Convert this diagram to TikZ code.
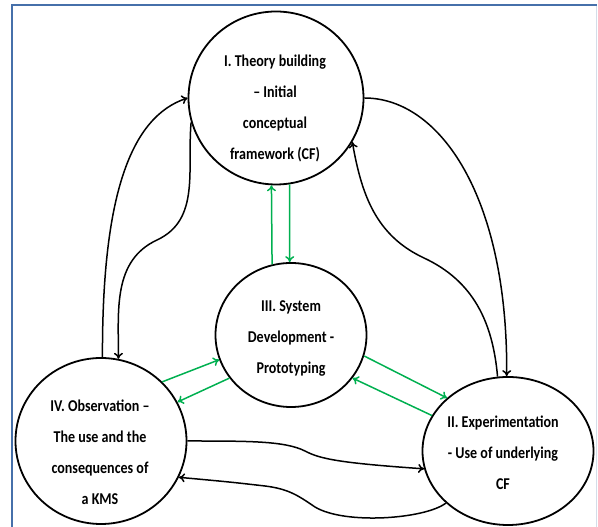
\documentclass[tikz,border=0pt]{standalone}
\usepackage{fontspec}
\setmainfont{Carlito}[Scale=1.18,FakeStretch=0.85]
\usepackage{xcolor}
\usepackage{tikz}
\usetikzlibrary{math,shapes.geometric,arrows.meta}
\definecolor{loopgreen}{RGB}{0,176,80}
\definecolor{frameblue}{RGB}{70,112,170}
\definecolor{framegrey}{RGB}{212,221,233}

\begin{document}
\begin{tikzpicture}[x=1pt,y=1pt,
	stage/.style={ellipse,draw,line width=1.8pt,inner sep=0pt},
	txt/.style={align=center,inner sep=0pt,font=\fontsize{14}{31}\selectfont\bfseries},
	flow/.style={line width=1.5pt,-{To[length=6pt,width=9pt]}},
	back/.style={flow,loopgreen}]
\useasboundingbox (0,0) rectangle (598,527);
\draw[framegrey,line width=1pt] (596.5,0) -- (596.5,521);
\draw[frameblue,line width=2pt] (11.5,0) -- (11.5,522) -- (597,522);
\tikzmath{
	\xth = 276;\yth = 429;
	\xsd = 291;\ysd = 192;
	\xob = 101;\yob = 86;
	\xex = 508;\yex = 76;
	{\node[stage,minimum width=175pt,minimum height=173pt] (th) at (\xth,\yth) {};};
	{\node[stage,minimum width=151pt,minimum height=144pt] (sd) at (\xsd,\ysd) {};};
	{\node[stage,minimum width=171pt,minimum height=166pt] (ob) at (\xob,\yob) {};};
	{\node[stage,minimum width=171pt,minimum height=148pt] (ex) at (\xex,\yex) {};};
	{\node[txt] (tht) at (\xth-1,\yth-10) {I. Theory building\\– Initial\\conceptual\\framework (CF)};};
	{\node[txt] (sdt) at (\xsd,\ysd-3) {III. System\\Development -\\Prototyping};};
	{\node[txt] (obt) at (\xob-1,\yob-11) {IV. Observation –\\The use and the\\consequences of\\a KMS};};
	{\node[txt] (ext) at (\xex-5,\yex-2) {II. Experimentation\\- Use of underlying\\CF};};
	%
	{\coordinate (bk) at (157,287);};
	{\coordinate (dk) at (424,269);};
	%
	{\draw[flow] (ob.89) .. controls (102,330) and (130,410) .. (th.180);};
	{\draw[flow] (th.196) to[out=265,in=25] (bk) to[out=205,in=90] (ob.78);};
	{\draw[flow] (th.east) .. controls (440,429) and (508,330) .. (ex.91);};
	{\draw[flow] (ex.98) to[out=95,in=-25] (dk) to[out=155,in=280] (th.330);};
	{\draw[flow] (ob.east) .. controls (250,86) and (285,86) .. (305,76)
		.. controls (320,68) and (340,64) .. (ex.192);};
	{\draw[flow] (ex.220) .. controls (425,8) and (345,2) .. (315,20)
		.. controls (300,30) and (290,38) .. (265,41)
		.. controls (230,45) .. (ob.335);};
	%
	{\draw[back] (sd.105) -- (th.267);};
	{\draw[back] (th.279) -- (sd.91);};
	{\draw[back] (ob.44) -- (sd.199);};
	{\draw[back] (sd.215) -- (ob.27);};
	{\draw[back] (sd.344) -- (ex.139);};
	{\draw[back] (ex.155) -- (sd.325);};
};
\end{tikzpicture}
\end{document}
